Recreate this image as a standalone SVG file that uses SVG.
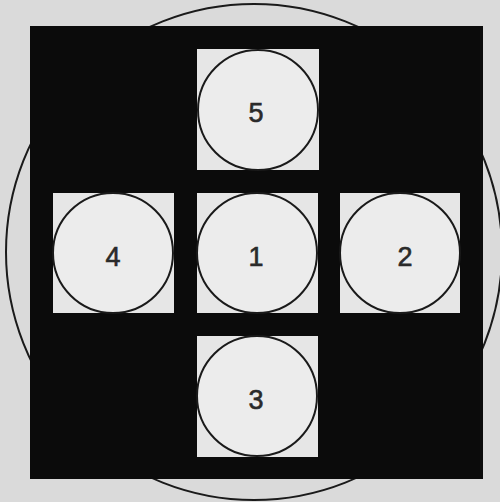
<svg xmlns="http://www.w3.org/2000/svg" width="500" height="502" viewBox="0 0 500 502">
<style>
.sq{fill:#e6e6e6;}
.c{fill:#ececec;stroke:#1a1a1a;stroke-width:2;}
.t{font-family:"Liberation Sans",Arial,sans-serif;font-size:27px;fill:#2a2a2a;stroke:#2a2a2a;stroke-width:0.6;text-anchor:middle;}
</style>
<rect width="500" height="502" fill="#dadada"/>
<circle cx="254" cy="252" r="248" fill="none" stroke="#1a1a1a" stroke-width="2"/>
<rect x="30" y="26" width="453" height="453" fill="#0b0b0b"/>
<g id="n5"><rect class="sq" x="197" y="49" width="122" height="121"/><circle class="c" cx="258" cy="110" r="60"/><text class="t" x="256" y="122">5</text></g>
<g id="n4"><rect class="sq" x="53" y="193" width="121" height="120"/><circle class="c" cx="113" cy="253" r="60"/><text class="t" x="113" y="266">4</text></g>
<g id="n1"><rect class="sq" x="197" y="193" width="121" height="120"/><circle class="c" cx="257" cy="253" r="60"/><text class="t" x="256" y="266">1</text></g>
<g id="n2"><rect class="sq" x="340" y="193" width="120" height="120"/><circle class="c" cx="400" cy="253" r="60"/><text class="t" x="405" y="266">2</text></g>
<g id="n3"><rect class="sq" x="197" y="336" width="121" height="121"/><circle class="c" cx="257" cy="396" r="60"/><text class="t" x="256" y="409">3</text></g>
<g id="connectors"></g>
</svg>
